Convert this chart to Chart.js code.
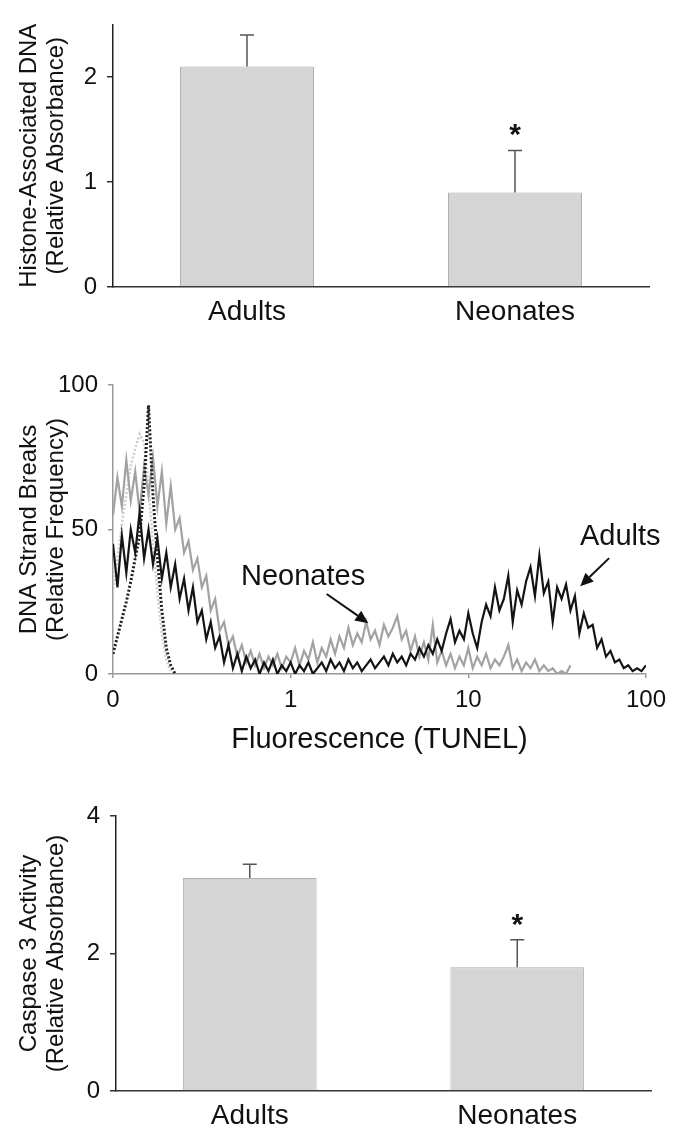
<!DOCTYPE html>
<html>
<head>
<meta charset="utf-8">
<script src="https://cdn.jsdelivr.net/npm/chart.js@4.4.1/dist/chart.umd.min.js"></script>
<style>
  body { margin: 0; background: #fff; }
  #wrap { position: relative; width: 674px; height: 1130px; }
  canvas { position: absolute; left: 0; }
</style>
</head>
<body>
<div id="wrap">
  <canvas id="histone" width="674" height="340" style="top:0px"></canvas>
  <canvas id="tunel" width="674" height="430" style="top:340px"></canvas>
  <canvas id="caspase" width="674" height="360" style="top:770px"></canvas>
</div>
<script>
// bar panels
const groups = ["Adults", "Neonates"];
const significant = ["", "*"];
const histoneMeans = [2.1, 0.9];
const histoneErrors = [0.3, 0.4];
const histoneTicks = [0, 1, 2];
const caspaseMeans = [3.1, 1.8];
const caspaseErrors = [0.2, 0.4];
const caspaseTicks = [0, 2, 4];

// TUNEL histogram, one value per channel (40 channels per decade, channel 0 = 0.1)
const tunelTicks = [0, 40, 80, 120];
const tunelTickLabels = ["0", "1", "10", "100"];
const freqTicks = [0, 50, 100];
const adults = [45,30,48,35,50,42,56,40,50,38, 47,33,42,30,38,26,33,22,30,18,
  22,12,18,9,13,4,10,2,7,1, 6,2,5,0,4,1,5,0,3,1, 4,0,3,1,4,0,2,4,1,5,
  2,4,1,5,2,4,1,3,5,2, 4,6,3,7,4,6,3,7,5,9, 6,10,7,12,8,14,19,11,15,12,
  21,14,9,18,24,20,30,22,26,34, 18,29,24,32,37,27,41,28,32,18,
  30,26,31,22,27,14,21,16,17,9, 12,6,8,4,5,2,3,1,2,1, 3];
const neonates = [55,68,58,74,60,70,56,72,62,75, 58,70,52,65,50,54,42,46,36,40,
  30,34,22,26,15,18,10,13,6,10, 4,8,3,7,2,6,3,7,2,6, 4,9,3,8,5,11,4,9,6,12,
  7,13,9,16,10,14,11,18,12,15, 10,17,13,16,20,12,15,8,13,6, 11,5,17,4,8,3,7,2,6,3,
  9,2,6,3,7,2,5,3,6,10, 2,5,1,4,2,5,1,3,1,2, 0,1,0,3];
const adultsControl = [7,13,19,25,32,40,48,65,93,62,40,22,9,3,0];
const neonatesControl = [28,40,52,62,72,78,83,80,65,45,28,14,5,1];

const tunelNotes = [
  { text: "Neonates", at: [42.8, 33.6], from: [48.1, 27.7], to: [57.5, 17.6] },
  { text: "Adults", at: [114.2, 47.4], from: [111.7, 40.1], to: [105.2, 30.4] }
];

Chart.defaults.font.family = "'Liberation Sans', Arial, sans-serif";
Chart.defaults.color = "#111";

const errorBars = {
  id: "errorBars",
  afterDatasetsDraw(chart, args, opts) {
    const ctx = chart.ctx;
    const y = chart.scales.y;
    const meta = chart.getDatasetMeta(0);
    ctx.save();
    ctx.strokeStyle = "#555";
    ctx.lineWidth = 1.5;
    meta.data.forEach((bar, i) => {
      const top = y.getPixelForValue(opts.means[i] + opts.errors[i]);
      ctx.beginPath();
      ctx.moveTo(bar.x, bar.y);
      ctx.lineTo(bar.x, top);
      ctx.moveTo(bar.x - 7, top);
      ctx.lineTo(bar.x + 7, top);
      ctx.stroke();
      if (opts.marks[i]) {
        ctx.fillStyle = "#111";
        ctx.font = "bold 30px 'Liberation Sans', Arial, sans-serif";
        ctx.textAlign = "center";
        ctx.textBaseline = "alphabetic";
        ctx.fillText(opts.marks[i], bar.x, top - 6);
      }
    });
    ctx.restore();
  }
};

const arrowNotes = {
  id: "arrowNotes",
  afterDatasetsDraw(chart, args, opts) {
    const ctx = chart.ctx;
    const sx = chart.scales.x, sy = chart.scales.y;
    const px = p => [sx.getPixelForValue(p[0]), sy.getPixelForValue(p[1])];
    ctx.save();
    ctx.fillStyle = "#111";
    ctx.strokeStyle = "#111";
    ctx.lineWidth = 2;
    ctx.font = "29px 'Liberation Sans', Arial, sans-serif";
    ctx.textAlign = "center";
    ctx.textBaseline = "middle";
    opts.notes.forEach(n => {
      const [tx, ty] = px(n.at);
      ctx.fillText(n.text, tx, ty);
      const [x0, y0] = px(n.from);
      const [x1, y1] = px(n.to);
      const a = Math.atan2(y1 - y0, x1 - x0);
      const hx = x1 - 13 * Math.cos(a), hy = y1 - 13 * Math.sin(a);
      ctx.beginPath();
      ctx.moveTo(x0, y0);
      ctx.lineTo(hx, hy);
      ctx.stroke();
      ctx.beginPath();
      ctx.moveTo(x1, y1);
      ctx.lineTo(hx + 6 * Math.sin(a), hy - 6 * Math.cos(a));
      ctx.lineTo(hx - 6 * Math.sin(a), hy + 6 * Math.cos(a));
      ctx.closePath();
      ctx.fill();
    });
    ctx.restore();
  }
};

function yTitle(lines) {
  return { display: true, text: lines, color: "#111", font: { size: 24, lineHeight: 1.125 }, padding: { top: 15.5, bottom: 0 } };
}

function barChart(id, means, errors, ticks, yMax, titleLines, pad, axisWidth, axisHeight, labelPad) {
  return new Chart(document.getElementById(id), {
    type: "bar",
    data: {
      labels: groups,
      datasets: [{
        data: means,
        backgroundColor: "#d5d5d5",
        borderColor: "#b0b0b0",
        borderWidth: 1,
        barPercentage: 0.5,
        categoryPercentage: 1
      }]
    },
    options: {
      responsive: false,
      animation: false,
      devicePixelRatio: 1,
      layout: { padding: pad },
      plugins: {
        legend: { display: false },
        tooltip: { enabled: false },
        errorBars: { means: means, errors: errors, marks: significant }
      },
      scales: {
        x: {
          grid: { display: false, drawTicks: false },
          border: { color: "#333", width: 1.5 },
          ticks: { font: { size: 28 }, padding: labelPad, color: "#111" },
          afterFit: s => { s.height = axisHeight; }
        },
        y: {
          min: 0,
          max: yMax,
          afterBuildTicks: s => { s.ticks = ticks.map(v => ({ value: v })); },
          grid: { drawOnChartArea: false, tickLength: 6, color: "#333", lineWidth: 1.5 },
          border: { color: "#222", width: 1.5 },
          ticks: { font: { size: 24 }, padding: 10, color: "#111" },
          title: yTitle(titleLines),
          afterFit: s => { s.width = axisWidth; }
        }
      }
    },
    plugins: [errorBars]
  });
}

barChart("histone", histoneMeans, histoneErrors, histoneTicks, 2.5,
  ["Histone-Associated DNA", "(Relative Absorbance)"],
  { top: 15, right: 25, bottom: 0, left: 0 }, 113, 53, 8);

barChart("caspase", caspaseMeans, caspaseErrors, caspaseTicks, 4,
  ["Caspase 3 Activity", "(Relative Absorbance)"],
  { top: 46, right: 23, bottom: 0, left: 0 }, 116, 39, 8);

const toPoints = arr => arr.map((v, i) => ({ x: i, y: v }));

new Chart(document.getElementById("tunel"), {
  type: "line",
  data: {
    datasets: [
      { data: toPoints(adultsControl), borderColor: "#1e1e1e", borderWidth: 3, borderDash: [2, 2], pointRadius: 0 },
      { data: toPoints(adults), borderColor: "#141414", borderWidth: 2.2, pointRadius: 0 },
      { data: toPoints(neonates), borderColor: "#a2a2a2", borderWidth: 2.2, pointRadius: 0 },
      { data: toPoints(neonatesControl), borderColor: "#cdcdcd", borderWidth: 2.5, borderDash: [2, 2], pointRadius: 0 }
    ]
  },
  options: {
    responsive: false,
    animation: false,
    devicePixelRatio: 1,
    layout: { padding: { top: 45, right: 25, bottom: 0, left: 0 } },
    plugins: {
      legend: { display: false },
      tooltip: { enabled: false },
      arrowNotes: { notes: tunelNotes }
    },
    scales: {
      x: {
        type: "linear",
        min: 0,
        max: 120,
        afterBuildTicks: s => { s.ticks = tunelTicks.map(v => ({ value: v })); },
        grid: { drawOnChartArea: false, tickLength: 4, color: "#999", lineWidth: 1.5 },
        border: { color: "#999", width: 1.5 },
        ticks: { font: { size: 24 }, padding: 8, color: "#111", callback: (v, i) => tunelTickLabels[i] },
        title: { display: true, text: "Fluorescence (TUNEL)", color: "#111", font: { size: 29 }, padding: { top: 0, bottom: 12.6 } },
        afterFit: s => { s.height = 96; }
      },
      y: {
        min: 0,
        max: 100,
        afterBuildTicks: s => { s.ticks = freqTicks.map(v => ({ value: v })); },
        grid: { drawOnChartArea: false, tickLength: 5, color: "#999", lineWidth: 1.5 },
        border: { color: "#999", width: 1.5 },
        ticks: { font: { size: 24 }, padding: 10, color: "#111" },
        title: yTitle(["DNA Strand Breaks", "(Relative Frequency)"]),
        afterFit: s => { s.width = 113; }
      }
    }
  },
  plugins: [arrowNotes]
});
</script>
</body>
</html>
